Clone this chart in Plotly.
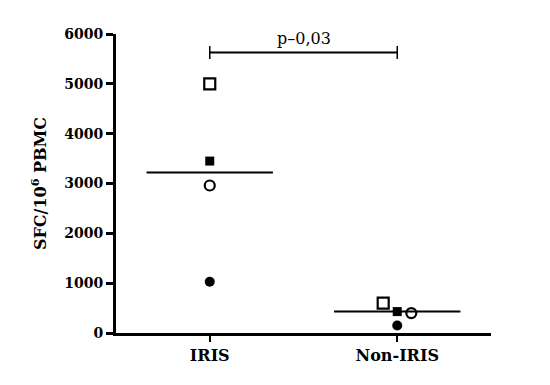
import plotly.graph_objects as go

categories = ["IRIS", "Non-IRIS"]
open_square = [5000, 600]
filled_square = [3450, 430]
open_circle = [2960, 400]
filled_circle = [1030, 150]
median = [3220, 430]
y_ticks = [0, 1000, 2000, 3000, 4000, 5000, 6000]
p_label = "p–0,03"
bracket_y = 5630

# horizontal jitter per symbol (category units)
jit = {
    "open_square": [0, -0.075],
    "filled_square": [0, 0],
    "open_circle": [0, 0.075],
    "filled_circle": [0, 0],
}

fig = go.Figure()
pos = list(range(len(categories)))

# median lines
for i, m in enumerate(median):
    fig.add_trace(go.Scatter(x=[pos[i] - 0.337, pos[i] + 0.337], y=[m, m], mode="lines",
                             line=dict(color="black", width=2), showlegend=False, hoverinfo="skip"))

series = [
    ("open_square", open_square, "square-open", 11, 2.2),
    ("filled_square", filled_square, "square", 9, 0),
    ("open_circle", open_circle, "circle-open", 10, 2.2),
    ("filled_circle", filled_circle, "circle", 10, 0),
]
for name, vals, sym, sz, lw in series:
    fig.add_trace(go.Scatter(
        x=[p + j for p, j in zip(pos, jit[name])], y=vals, mode="markers",
        marker=dict(symbol=sym, size=sz, color="black", line=dict(color="black", width=lw)),
        showlegend=False, name=name))

# significance bracket
fig.add_trace(go.Scatter(x=[pos[0], pos[1]], y=[bracket_y, bracket_y], mode="lines",
                         line=dict(color="black", width=2), showlegend=False, hoverinfo="skip"))
for p in pos:
    fig.add_trace(go.Scatter(x=[p, p], y=[bracket_y - 130, bracket_y + 130], mode="lines",
                             line=dict(color="black", width=1.5), showlegend=False, hoverinfo="skip"))
fig.add_annotation(x=(pos[0] + pos[1]) / 2, y=bracket_y + 40, text=p_label, showarrow=False,
                   yanchor="bottom", font=dict(family="DejaVu Serif", size=16, color="black"))

fig.update_layout(
    width=534, height=369,
    margin=dict(l=108, r=51, t=26, b=40),
    paper_bgcolor="white", plot_bgcolor="white",
    font=dict(family="DejaVu Serif", color="black"),
)
fig.update_xaxes(range=[-0.5, 1.5], tickvals=pos, ticktext=categories,
                 showline=True, linecolor="black", linewidth=3, showgrid=False, zeroline=False,
                 ticks="outside", ticklen=6, tickwidth=1.5, tickcolor="black",
                 tickfont=dict(family="DejaVu Serif", size=16, color="black", weight="bold"))
fig.update_yaxes(range=[0, 6000], tickvals=y_ticks, ticktext=[str(v) for v in y_ticks],
                 showline=True, linecolor="black", linewidth=3, showgrid=False, zeroline=False,
                 ticks="outside", ticklen=7, tickwidth=2.5, tickcolor="black",
                 tickfont=dict(family="DejaVu Serif", size=14, color="black", weight="bold"),
                 title=dict(text="<b>SFC/10<sup>6</sup> PBMC</b>", standoff=14,
                            font=dict(family="DejaVu Serif", size=16, color="black")))

fig.write_html("out.html")
